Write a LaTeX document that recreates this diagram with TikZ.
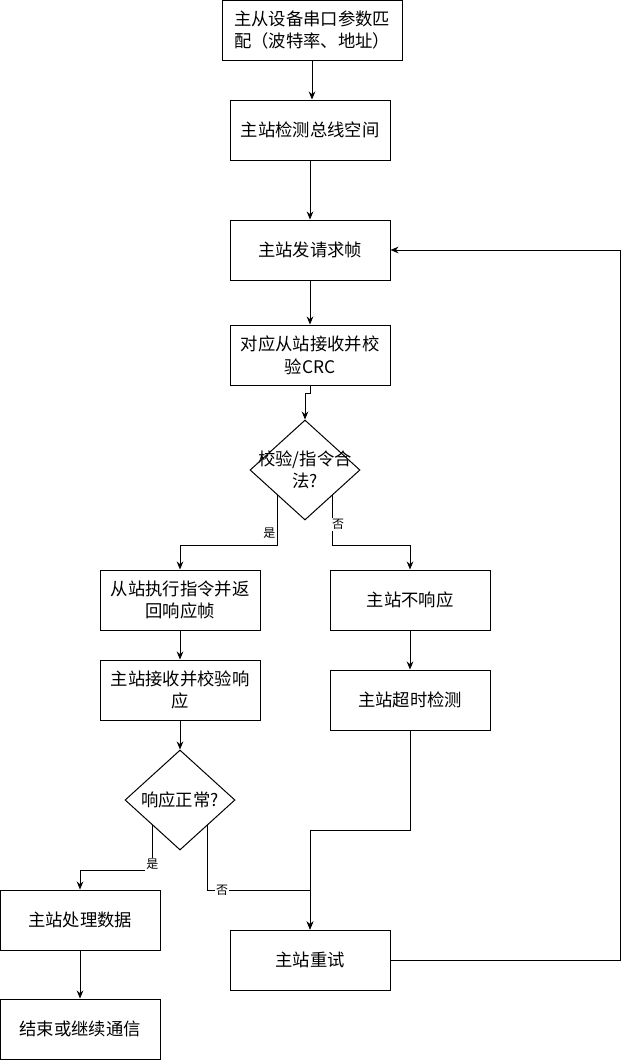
\documentclass[tikz,border=0pt]{standalone}
\usepackage{fontspec}
\setmainfont{Noto Sans CJK SC}
\usetikzlibrary{shapes.geometric,arrows.meta,calc}

\begin{document}
\begin{tikzpicture}[x=0.75pt,y=-0.75pt,line width=0.75pt]
              \tikzstyle{every node}+=[font=\fontsize{13}{17}\selectfont]
              \tikzstyle{proc}=[draw, rectangle, minimum width=120pt, minimum height=45pt, inner sep=2pt, align=center]
              \tikzstyle{cond}=[draw, diamond, minimum width=82.5pt, minimum height=75pt, inner sep=0pt]
              \tikzstyle{arr}=[-{Stealth[length=6pt,width=5pt]}]
              \tikzstyle{lbl}=[fill=white, inner sep=1pt, font=\fontsize{9}{11}\selectfont]
              \useasboundingbox (0,0) rectangle (630,1060);
              % main column
              \node [proc, minimum width=135pt] (match) at (312,30) {主从设备串口参数匹\\配（波特率、地址）};
              \node [proc] (idle) at (310,130) {主站检测总线空间};
              \node [proc] (req) at (310,250) {主站发请求帧};
              \node [proc] (crc) at (310,355) {对应从站接收并校\\验CRC};
              \node [cond, label={[align=center]center:校验/指令合\\法?}] (valid) at (305,470) {};
              % left branch
              \node [proc] (exec) at (180,600) {从站执行指令并返\\回响应帧};
              \node [proc] (recv) at (180,690) {主站接收并校验响\\应};
              \node [cond, label={center:响应正常?}] (ok) at (180,800) {};
              \node [proc] (proc) at (80,920) {主站处理数据};
              \node [proc] (done) at (80,1029) {结束或继续通信};
              % right branch
              \node [proc] (silent) at (410,600) {主站不响应};
              \node [proc] (timeout) at (410,700) {主站超时检测};
              \node [proc] (retry) at (310,960) {主站重试};
              % connectors
              \draw [arr] (match) -- (match |- idle.north);
              \draw [arr] (idle) -- (req);
              \draw [arr] (req) -- (crc);
              \draw [arr] (crc.south) -- ++(0,8) -| (valid.north);
              \draw [arr] ($(valid.west)!0.5!(valid.south)$) -- ++(0,50) node [lbl, pos=0.76, left, fill=none] {是} -| (exec.north);
              \draw [arr] ($(valid.east)!0.5!(valid.south)$) -- ++(0,50) node [lbl, pos=0.58, xshift=4pt] {否} -| (silent.north);
              \draw [arr] (exec) -- (recv);
              \draw [arr] (silent) -- (timeout);
              \draw [arr] (recv) -- (ok);
              \draw [arr] ($(ok.west)!0.5!(ok.south)$) -- ++(0,45) node [lbl, pos=0.87] {是} -| (proc.north);
              \draw [arr] ($(ok.east)!0.5!(ok.south)$) -- ++(0,65) -| node [lbl, pos=0.07] {否} (retry.north);
              \draw [arr] (timeout.south) -- ++(0,100) -| (retry.north);
              \draw [arr] (proc) -- (done);
              \draw [arr] (retry.east) -- ++(230,0) |- (req.east);
\end{tikzpicture}
\end{document}
